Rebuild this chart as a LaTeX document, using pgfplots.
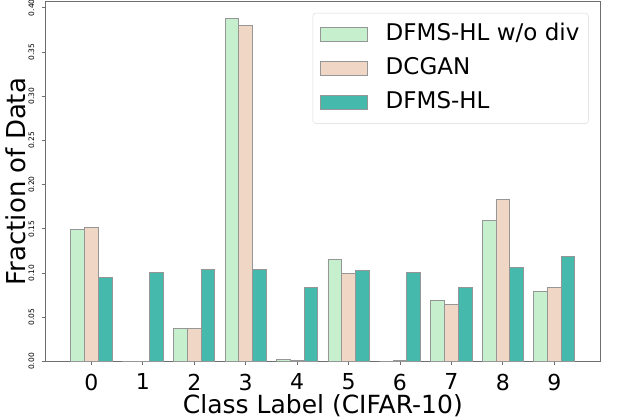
\documentclass[border=0pt]{standalone}
\usepackage{fontspec}
\setmainfont{DejaVu Sans}
\usepackage{pgfplots}
\pgfplotsset{compat=1.18}
\definecolor{cgreen}{RGB}{198,239,206}
\definecolor{cpeach}{RGB}{240,214,196}
\definecolor{cteal}{RGB}{69,185,172}
\definecolor{cedge}{RGB}{150,150,150}
\definecolor{cspine}{RGB}{110,110,110}
\begin{document}
\begin{tikzpicture}
\begin{axis}[
  scale only axis,
  width=554.3bp, height=359.8bp,
  xmin=-0.89, xmax=9.89,
  ymin=0, ymax=0.4069,
  ybar, bar width=0.2667,
  axis line style={cspine, line width=0.8bp},
  tick style={cspine, line width=0.8bp},
  tick align=outside,
  major tick length=3.5bp,
  xtick={0,1,2,3,4,5,6,7,8,9},
  ytick={0,0.05,0.10,0.15,0.20,0.25,0.30,0.35,0.40},
  xtick pos=bottom, ytick pos=left,
  /pgf/number format/assume math mode=true,
  yticklabel={\pgfmathprintnumber[fixed,fixed zerofill,precision=2]{\tick}},
  yticklabel style={font=\fontsize{7.5bp}{8bp}\selectfont, rotate=90, anchor=south, inner sep=0pt},
  yticklabel shift=7.7bp,
  xticklabel style={font=\fontsize{22bp}{26bp}\selectfont, anchor=north, inner sep=0pt},
  xticklabel shift=8.5bp,
  xlabel={Class Label (CIFAR-10)},
  ylabel={Fraction of Data},
  xlabel style={font=\fontsize{25bp}{30bp}\selectfont, at={(axis description cs:0.5,0)}, anchor=base, inner sep=0pt, yshift=-51.8bp},
  ylabel style={font=\fontsize{26bp}{30bp}\selectfont, at={(axis description cs:-0.0365,0.5)}, anchor=base, inner sep=0pt},
  legend cell align=left,
  legend image code/.code={\draw[#1, sharp corners] (0bp,-7bp) rectangle (47bp,7bp);},
  legend style={at={(0.9794,0.9686)}, anchor=north east, draw=black!15, rounded corners=3bp, fill=white,
    font=\fontsize{23bp}{26bp}\selectfont, inner xsep=7bp, inner ysep=8bp, row sep=8.2bp, column sep=16bp,
    nodes={inner sep=2bp, text height=17bp, text depth=5bp}},
]
\addplot[bar shift=-0.2667, fill=cgreen, draw=cedge, line width=0.9bp] coordinates {
(0,0.1496) (1,0) (2,0.0374) (3,0.3876) (4,0.0027) (5,0.1152) (6,0) (7,0.0691) (8,0.1594) (9,0.0793)};
\addlegendentry{DFMS-HL w/o div}
\addplot[bar shift=0, fill=cpeach, draw=cedge, line width=0.9bp] coordinates {
(0,0.1515) (1,0) (2,0.0374) (3,0.3804) (4,0.0010) (5,0.0993) (6,0.0007) (7,0.0642) (8,0.1836) (9,0.0835)};
\addlegendentry{DCGAN}
\addplot[bar shift=0.2667, fill=cteal, draw=cedge, line width=0.9bp] coordinates {
(0,0.0955) (1,0.1005) (2,0.1039) (3,0.1046) (4,0.0842) (5,0.1027) (6,0.1005) (7,0.0835) (8,0.1065) (9,0.1186)};
\addlegendentry{DFMS-HL}
\end{axis}
\pgfresetboundingbox
\useasboundingbox (-45.7bp,-58.5bp) rectangle (577.3bp,361.5bp);
\end{tikzpicture}
\end{document}
